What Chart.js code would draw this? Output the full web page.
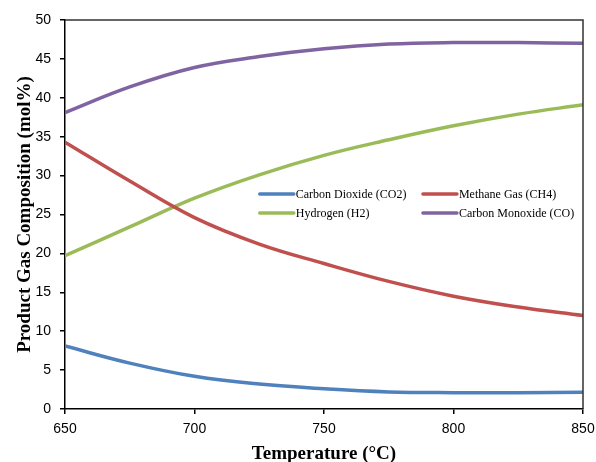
<!DOCTYPE html>
<html>
<head>
<meta charset="utf-8">
<script src="https://cdn.jsdelivr.net/npm/chart.js@4"></script>
<style>
  html, body { margin: 0; padding: 0; background: #fff; }
  #wrap { width: 596px; height: 462px; }
</style>
</head>
<body>
<div id="wrap"><canvas id="c" width="596" height="462"></canvas></div>
<script>
const temperatures = [650, 675, 700, 725, 750, 775, 800, 825, 850];
const co2 = [8.1, 5.9, 4.2, 3.2, 2.6, 2.2, 2.1, 2.1, 2.15];
const ch4 = [34.3, 29.3, 24.6, 21.2, 18.7, 16.4, 14.5, 13.1, 12.0];
const h2  = [19.7, 23.4, 27.1, 30.1, 32.6, 34.6, 36.4, 37.9, 39.1];
const co  = [38.1, 41.4, 43.9, 45.3, 46.3, 46.9, 47.1, 47.1, 47.0];
const seriesLabels = ['Carbon Dioxide (CO2)', 'Methane Gas (CH4)', 'Hydrogen (H2)', 'Carbon Monoxide (CO)'];
const xTicks = [650, 700, 750, 800, 850];

const colors = ['#4F81BD', '#C0504D', '#9BBB59', '#8064A2'];
const seriesData = [co2, ch4, h2, co];

const datasets = seriesData.map((arr, i) => ({
  label: seriesLabels[i],
  data: temperatures.map((t, j) => ({ x: t, y: arr[j] })),
  borderColor: colors[i],
  backgroundColor: colors[i],
  borderWidth: 3.5,
  pointRadius: 0,
  tension: 0.4,
  fill: false
}));

const boxPlugin = {
  id: 'box',
  afterDatasetsDraw(chart) {
    const { ctx, chartArea: a } = chart;
    ctx.save();
    ctx.strokeStyle = '#333';
    ctx.lineWidth = 1.5;
    ctx.beginPath();
    ctx.moveTo(a.left, a.top);
    ctx.lineTo(a.right, a.top);
    ctx.lineTo(a.right, a.bottom);
    ctx.stroke();
    ctx.restore();
  }
};

const legendPlugin = {
  id: 'innerLegend',
  afterDatasetsDraw(chart) {
    const { ctx, chartArea: a } = chart;
    const w = a.right - a.left, h = a.bottom - a.top;
    const col = [a.left + w * 0.376, a.left + w * 0.691];
    const row = [a.top + h * 0.447, a.top + h * 0.496];
    ctx.save();
    ctx.font = '12px "Liberation Serif", "Times New Roman", serif';
    ctx.textBaseline = 'middle';
    ctx.fillStyle = '#000';
    chart.data.datasets.forEach((ds, i) => {
      const x = col[i % 2], y = row[Math.floor(i / 2)];
      ctx.strokeStyle = ds.borderColor;
      ctx.lineWidth = 3.5;
      ctx.lineCap = 'round';
      ctx.beginPath();
      ctx.moveTo(x, y);
      ctx.lineTo(x + 34, y);
      ctx.stroke();
      ctx.fillText(ds.label, x + 36, y + 1);
    });
    ctx.restore();
  }
};

new Chart(document.getElementById('c'), {
  type: 'line',
  data: { datasets },
  options: {
    responsive: false,
    animation: false,
    layout: { padding: { left: 0, right: 13, top: 20, bottom: 0 } },
    plugins: { legend: { display: false }, tooltip: { enabled: false } },
    scales: {
      x: {
        type: 'linear',
        min: 650, max: 850,
        afterBuildTicks(scale) { scale.ticks = xTicks.map(v => ({ value: v })); },
        afterFit(scale) { scale.height = 53; scale.paddingRight = 0; scale.paddingLeft = 0; },
        border: { color: '#000', width: 1.5 },
        grid: { drawOnChartArea: false, color: '#000', tickLength: 5, lineWidth: 1.5 },
        ticks: { color: '#000', font: { family: '"Liberation Sans", Arial, sans-serif', size: 14 }, padding: 7, maxRotation: 0 },
        title: { display: true, text: 'Temperature (°C)', color: '#000', font: { family: '"Liberation Serif", "Times New Roman", serif', size: 19, weight: 'bold' }, padding: { top: 0, bottom: -3 } }
      },
      y: {
        min: 0, max: 50,
        ticks: { stepSize: 5, color: '#000', font: { family: '"Liberation Sans", Arial, sans-serif', size: 14 }, padding: 9 },
        afterFit(scale) { scale.width = 65; scale.paddingTop = 0; scale.paddingBottom = 0; },
        border: { color: '#000', width: 1.5 },
        grid: { drawOnChartArea: false, color: '#000', tickLength: 5, lineWidth: 1.5 },
        title: { display: true, text: 'Product Gas Composition (mol%)', color: '#000', font: { family: '"Liberation Serif", "Times New Roman", serif', size: 19, weight: 'bold' }, padding: { top: 14, bottom: 0 } }
      }
    }
  },
  plugins: [boxPlugin, legendPlugin]
});
</script>
</body>
</html>
